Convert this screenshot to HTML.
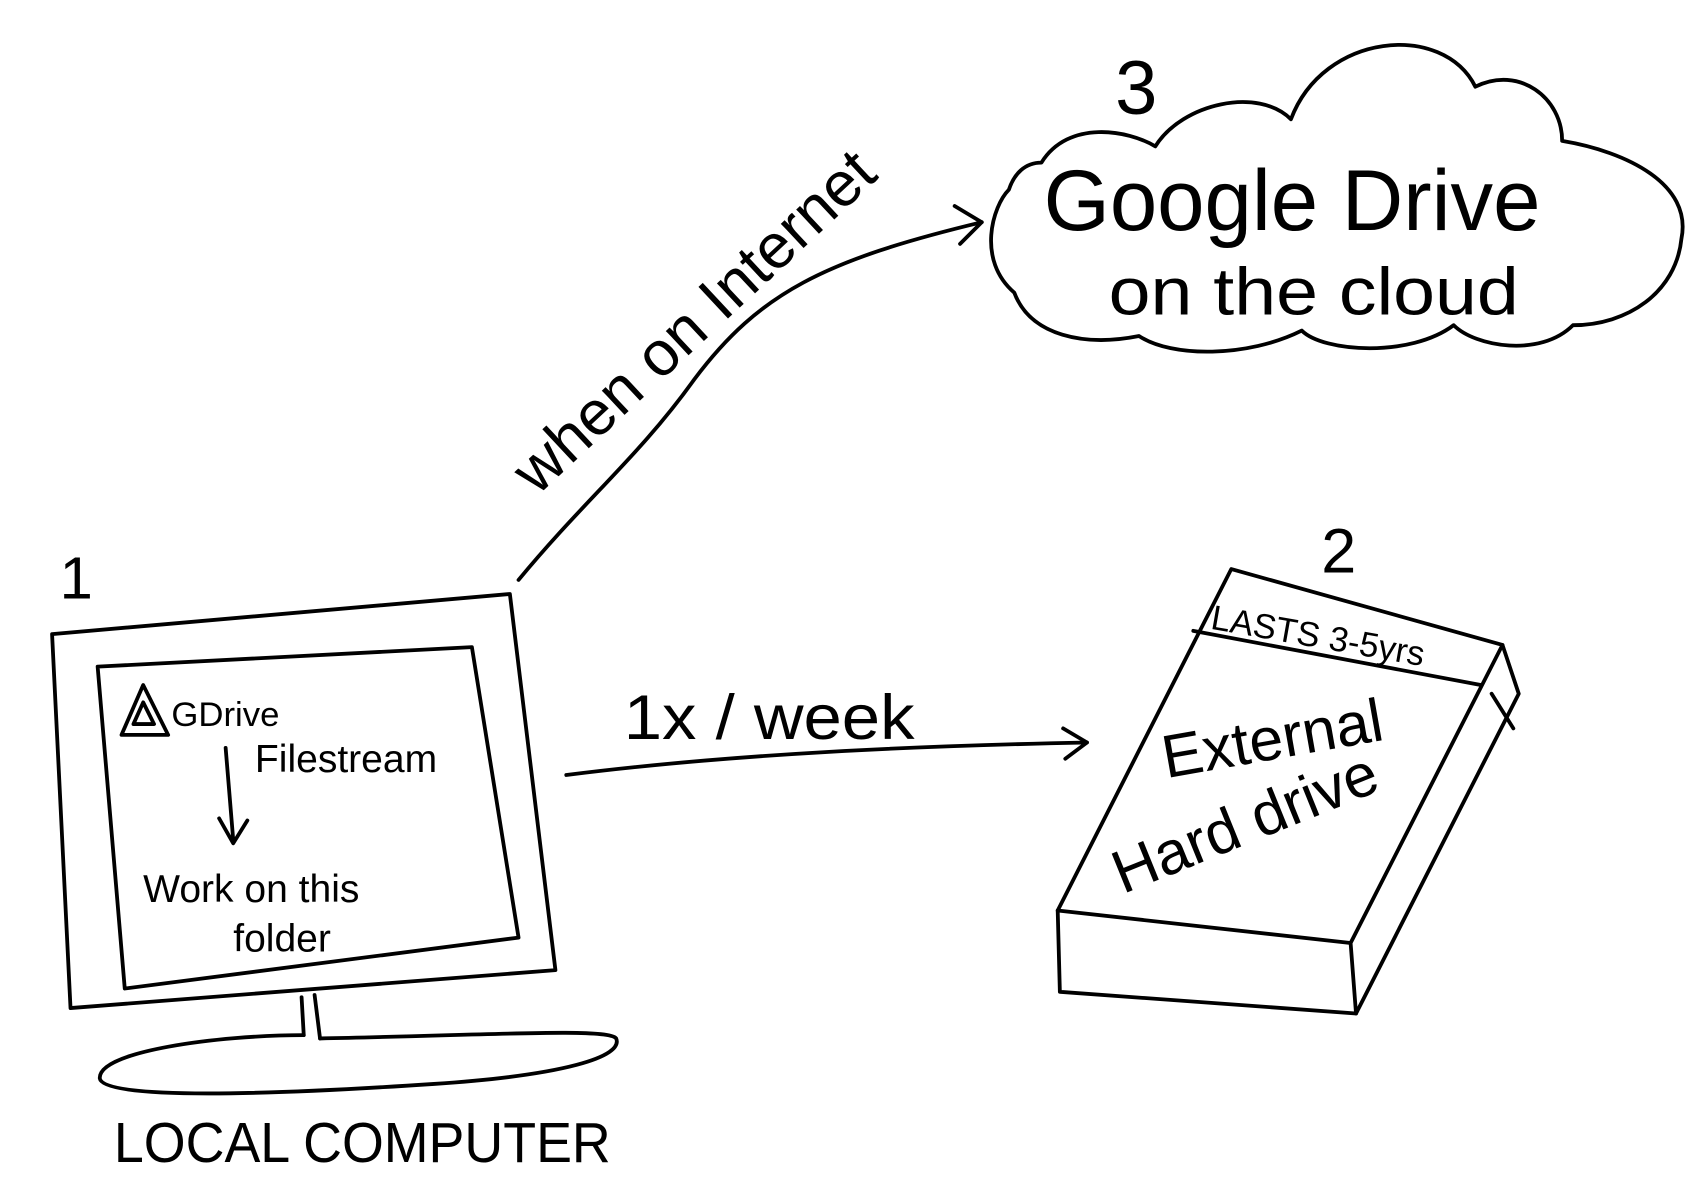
<!DOCTYPE html>
<html><head><meta charset="utf-8"><style>
html,body{margin:0;padding:0;background:#fff;}
svg{display:block;}
text{font-family:"Liberation Sans",sans-serif;fill:#000;}
</style></head><body>
<svg width="1701" height="1188" viewBox="0 0 1568 1096" preserveAspectRatio="none" xmlns="http://www.w3.org/2000/svg">
<g fill="none" stroke="#000" stroke-width="3.5" stroke-linecap="round" stroke-linejoin="round">
<path d="M960,150 C985,110 1040,120 1065,135 C1090,95 1160,80 1190,110 C1220,30 1330,20 1360,80 C1400,60 1440,90 1440,130 C1500,140 1560,170 1550,220 C1545,270 1500,300 1450,300 C1420,330 1360,320 1340,300 C1300,330 1220,325 1200,305 C1150,330 1080,330 1050,310 C1000,320 950,310 935,270 C900,240 915,190 930,175 C935,160 945,150 960,150 Z"/>
<path d="M478,535 C540,460 590,420 640,350 C700,270 760,240 905,205"/>
<path d="M880,190 L905,205 L885,225"/>
<path d="M48,585 L470,548 L512,895 L65,930 Z"/>
<path d="M90,615 L435,597 L478,865 L115,912 Z"/>
<path d="M112,678 L132,632 L155,678 Z M123,668 L132,648 L142,668 Z"/>
<path d="M208,690 L215,775 M202,755 L215,778 L228,757"/>
<path d="M278,920 L280,955 M290,918 L295,958"/>
<path d="M280,955 C200,955 90,970 92,995 C95,1015 250,1010 400,1000 C520,992 575,975 568,958 C560,948 450,955 295,958"/>
<path d="M522,715 C680,695 850,688 1002,685"/>
<path d="M980,672 L1002,685 L982,700"/>
<path d="M1135,525 L1385,595 L1245,870 L975,840 Z"/>
<path d="M975,840 L977,915 L1250,935 L1400,640 L1385,595"/>
<path d="M1245,870 L1250,935"/>
<path d="M1100,582 L1365,632"/>
<path d="M1375,640 L1395,672"/>
</g>
<text x="1028" y="105" font-size="70">3</text>
<text x="962" y="212" font-size="80" textLength="458" lengthAdjust="spacingAndGlyphs">Google Drive</text>
<text x="1022" y="290" font-size="62" textLength="378" lengthAdjust="spacingAndGlyphs">on the cloud</text>
<text x="0" y="0" font-size="58" transform="translate(495,458) rotate(-43)">when on Internet</text>
<text x="55" y="552" font-size="55">1</text>
<text x="158" y="670" font-size="32">GDrive</text>
<text x="235" y="712" font-size="36">Filestream</text>
<text x="132" y="832" font-size="36">Work on this</text>
<text x="215" y="878" font-size="36">folder</text>
<text x="105" y="1072" font-size="52" textLength="458" lengthAdjust="spacingAndGlyphs">LOCAL COMPUTER</text>
<text x="575" y="682" font-size="58" textLength="268" lengthAdjust="spacingAndGlyphs">1x / week</text>
<text x="1218" y="528" font-size="58">2</text>
<text x="0" y="0" font-size="32" transform="translate(1115,580) rotate(10)">LASTS 3-5yrs</text>
<text x="0" y="0" font-size="56" transform="translate(1075,718) rotate(-10)">External</text>
<text x="0" y="0" font-size="56" transform="translate(1035,825) rotate(-22)">Hard drive</text>
</svg>
</body></html>
